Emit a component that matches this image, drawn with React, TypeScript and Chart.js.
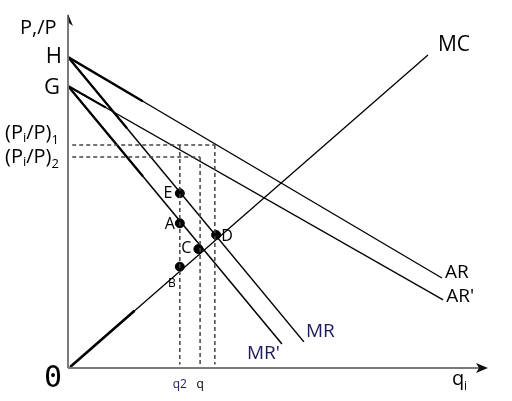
import React, { useRef, useEffect } from 'react';
import { Chart, ChartConfiguration, Plugin } from 'chart.js/auto';

// curve end points (x = quantity, y = price)
const hLevel = 8.81;
const gLevel = 7.99;
const arLine = [{ x: 0, y: hLevel }, { x: 8.86, y: 2.55 }];
const arPrimeLine = [{ x: 0, y: gLevel }, { x: 8.89, y: 1.93 }];
const mrLine = [{ x: 0, y: hLevel }, { x: 5.59, y: 0.74 }];
const mrPrimeLine = [{ x: 0, y: gLevel }, { x: 5.07, y: 0.68 }];
const mcLine = [{ x: 0.05, y: 0.03 }, { x: 8.53, y: 8.87 }];

// marked points
const pointNames = ['E', 'A', 'B', 'C', 'D'];
const pointX = [2.65, 2.65, 2.65, 3.09, 3.51];
const pointY = [4.95, 4.1, 2.87, 3.37, 3.77];

// dashed guide levels
const priceLevels = [6.32, 5.98];
const quantityLevels = [2.65, 3.13, 3.48];

const ink = '#000000';
const navy = '#1c1c5c';
const font = '"Open Sans", "Noto Sans", sans-serif';

const labelPlugin: Plugin = {
  id: 'econLabels',
  afterDatasetsDraw(chart) {
    const { ctx, chartArea, scales } = chart;
    const xs = scales.x;
    const ys = scales.y;
    const left = chartArea.left;
    const bottom = chartArea.bottom;
    ctx.save();

    // axes
    ctx.strokeStyle = '#7a7a7a';
    ctx.lineWidth = 2;
    ctx.beginPath();
    ctx.moveTo(left, bottom);
    ctx.lineTo(left, 15);
    ctx.moveTo(left, bottom);
    ctx.lineTo(486, bottom);
    ctx.stroke();
    ctx.fillStyle = '#111';
    ctx.beginPath();
    ctx.moveTo(488, bottom);
    ctx.lineTo(476, bottom - 5);
    ctx.lineTo(479, bottom);
    ctx.lineTo(476, bottom + 5);
    ctx.closePath();
    ctx.fill();
    ctx.beginPath();
    ctx.moveTo(left, 14);
    ctx.lineTo(left + 5, 26);
    ctx.lineTo(left + 1, 23);
    ctx.closePath();
    ctx.fill();

    const text = (t: string, x: number, y: number, size: number, align: CanvasTextAlign = 'left', color = ink, f = font) => {
      ctx.font = `${size}px ${f}`;
      ctx.fillStyle = color;
      ctx.textAlign = align;
      ctx.textBaseline = 'middle';
      ctx.fillText(t, x, y);
    };

    text('P,/P', 20, 28, 20);
    text('H', 62, ys.getPixelForValue(hLevel), 22, 'right');
    text('G', 60, ys.getPixelForValue(gLevel) + 2, 22, 'right');

    // (Pi/P)1 and (Pi/P)2
    priceLevels.forEach((lv, i) => {
      const y = ys.getPixelForValue(lv) + (i === 0 ? -12 : 0);
      let x = 5;
      ctx.font = `20px ${font}`;
      ctx.fillStyle = ink;
      ctx.textAlign = 'left';
      ctx.textBaseline = 'middle';
      ctx.fillText('(P', x, y);
      x += ctx.measureText('(P').width;
      ctx.font = `13px ${font}`;
      ctx.fillText('i', x, y + 5);
      x += ctx.measureText('i').width;
      ctx.font = `20px ${font}`;
      ctx.fillText('/P)', x, y);
      x += ctx.measureText('/P)').width;
      ctx.font = `13px ${font}`;
      ctx.fillText(String(i + 1), x, y + 7);
    });

    text('0', 53, 379, 30, 'center', ink, '"DejaVu Sans Mono", monospace');
    text('q2', xs.getPixelForValue(quantityLevels[0]), 385, 12, 'center', navy);
    text('q', xs.getPixelForValue(quantityLevels[1]), 385, 12, 'center');
    ctx.font = `20px ${font}`;
    ctx.fillStyle = ink;
    ctx.textAlign = 'left';
    ctx.fillText('q', 452, 379);
    ctx.font = `12px ${font}`;
    ctx.fillText('i', 464, 387);

    text('MC', xs.getPixelForValue(mcLine[1].x) + 10, ys.getPixelForValue(mcLine[1].y) - 10, 21);
    text('AR', xs.getPixelForValue(arLine[1].x) + 3, ys.getPixelForValue(arLine[1].y) - 5, 19);
    text("AR'", xs.getPixelForValue(arPrimeLine[1].x) + 3, ys.getPixelForValue(arPrimeLine[1].y) - 3, 19);
    text('MR', xs.getPixelForValue(mrLine[1].x) + 2, ys.getPixelForValue(mrLine[1].y) - 10, 19, 'left', navy);
    text("MR'", xs.getPixelForValue(mrPrimeLine[1].x) - 2, ys.getPixelForValue(mrPrimeLine[1].y) + 10, 19, 'right', navy);

    const offsets: Record<string, [number, number, number]> = {
      E: [-12, 0, 16],
      A: [-10, 1, 16],
      B: [-8, 17, 12],
      C: [-12, -1, 16],
      D: [11, 2, 16],
    };
    pointNames.forEach((n, i) => {
      const [dx, dy, sz] = offsets[n];
      text(n, xs.getPixelForValue(pointX[i]) + dx, ys.getPixelForValue(pointY[i]) + dy, sz, 'center');
    });
    ctx.restore();
  },
};

const lineSet = (label: string, data: { x: number; y: number }[], width = 1.3) => ({
  label,
  data,
  showLine: true,
  borderColor: ink,
  borderWidth: width,
  pointRadius: 0,
  fill: false,
});

const dashSet = (label: string, data: { x: number; y: number }[]) => ({
  label,
  data,
  showLine: true,
  borderColor: '#444',
  borderWidth: 1.5,
  borderDash: [4, 3],
  pointRadius: 0,
  fill: false,
});

// the first stretch of a curve drawn heavier, as in the original sketch
const partOf = (line: { x: number; y: number }[], share: number) => [
  line[0],
  { x: line[0].x + (line[1].x - line[0].x) * share, y: line[0].y + (line[1].y - line[0].y) * share },
];

const App: React.FC = () => {
  const chartRef = useRef<HTMLCanvasElement | null>(null);
  const chartInstanceRef = useRef<Chart | null>(null);

  useEffect(() => {
    if (!chartRef.current) return;
    const ctx = chartRef.current.getContext('2d');
    if (!ctx) return;
    if (chartInstanceRef.current) chartInstanceRef.current.destroy();

    const pts = pointX.map((x, i) => ({ x, y: pointY[i] }));
    const config: ChartConfiguration = {
      type: 'scatter',
      data: {
        datasets: [
          dashSet('h1', [{ x: 0.1, y: priceLevels[0] }, { x: quantityLevels[2], y: priceLevels[0] }]),
          dashSet('h2', [{ x: 0.1, y: priceLevels[1] }, { x: quantityLevels[1], y: priceLevels[1] }]),
          dashSet('v1', [{ x: quantityLevels[0], y: priceLevels[0] }, { x: quantityLevels[0], y: 0.1 }]),
          dashSet('v2', [{ x: quantityLevels[1], y: priceLevels[1] }, { x: quantityLevels[1], y: 0.1 }]),
          dashSet('v3', [{ x: quantityLevels[2], y: priceLevels[0] }, { x: quantityLevels[2], y: 0.1 }]),
          lineSet('AR', arLine),
          lineSet("AR'", arPrimeLine),
          lineSet('MR', mrLine, 1.5),
          lineSet("MR'", mrPrimeLine, 1.5),
          lineSet('MC', mcLine, 1.3),
          lineSet('AR heavy', partOf(arLine, 0.2), 2.4),
          lineSet('MR heavy', partOf(mrLine, 0.25), 2.2),
          lineSet("MR' heavy", partOf(mrPrimeLine, 0.35), 2.2),
          lineSet("AR' heavy", partOf(arPrimeLine, 0.1), 2.2),
          lineSet('MC heavy', partOf(mcLine, 0.18), 2.6),
          {
            label: 'points',
            data: pts,
            pointRadius: 4.5,
            pointBackgroundColor: ink,
            pointBorderColor: ink,
            showLine: false,
          },
        ],
      } as any,
      options: {
        animation: false,
        responsive: false,
        events: [],
        layout: { padding: { left: 68, right: 22, top: 15, bottom: 33 } },
        plugins: { legend: { display: false }, tooltip: { enabled: false } },
        scales: {
          x: { type: 'linear', min: 0, max: 10, display: false },
          y: { type: 'linear', min: 0, max: 10, display: false },
        },
      },
      plugins: [labelPlugin],
    };
    chartInstanceRef.current = new Chart(ctx, config);

    return () => {
      if (chartInstanceRef.current) {
        chartInstanceRef.current.destroy();
        chartInstanceRef.current = null;
      }
    };
  }, []);

  return (
    <div style={{ position: 'fixed', left: 0, top: 0, width: '512px', height: '401px', background: '#fff' }}>
      <canvas ref={chartRef} width={512} height={401} />
    </div>
  );
};

export default App;
